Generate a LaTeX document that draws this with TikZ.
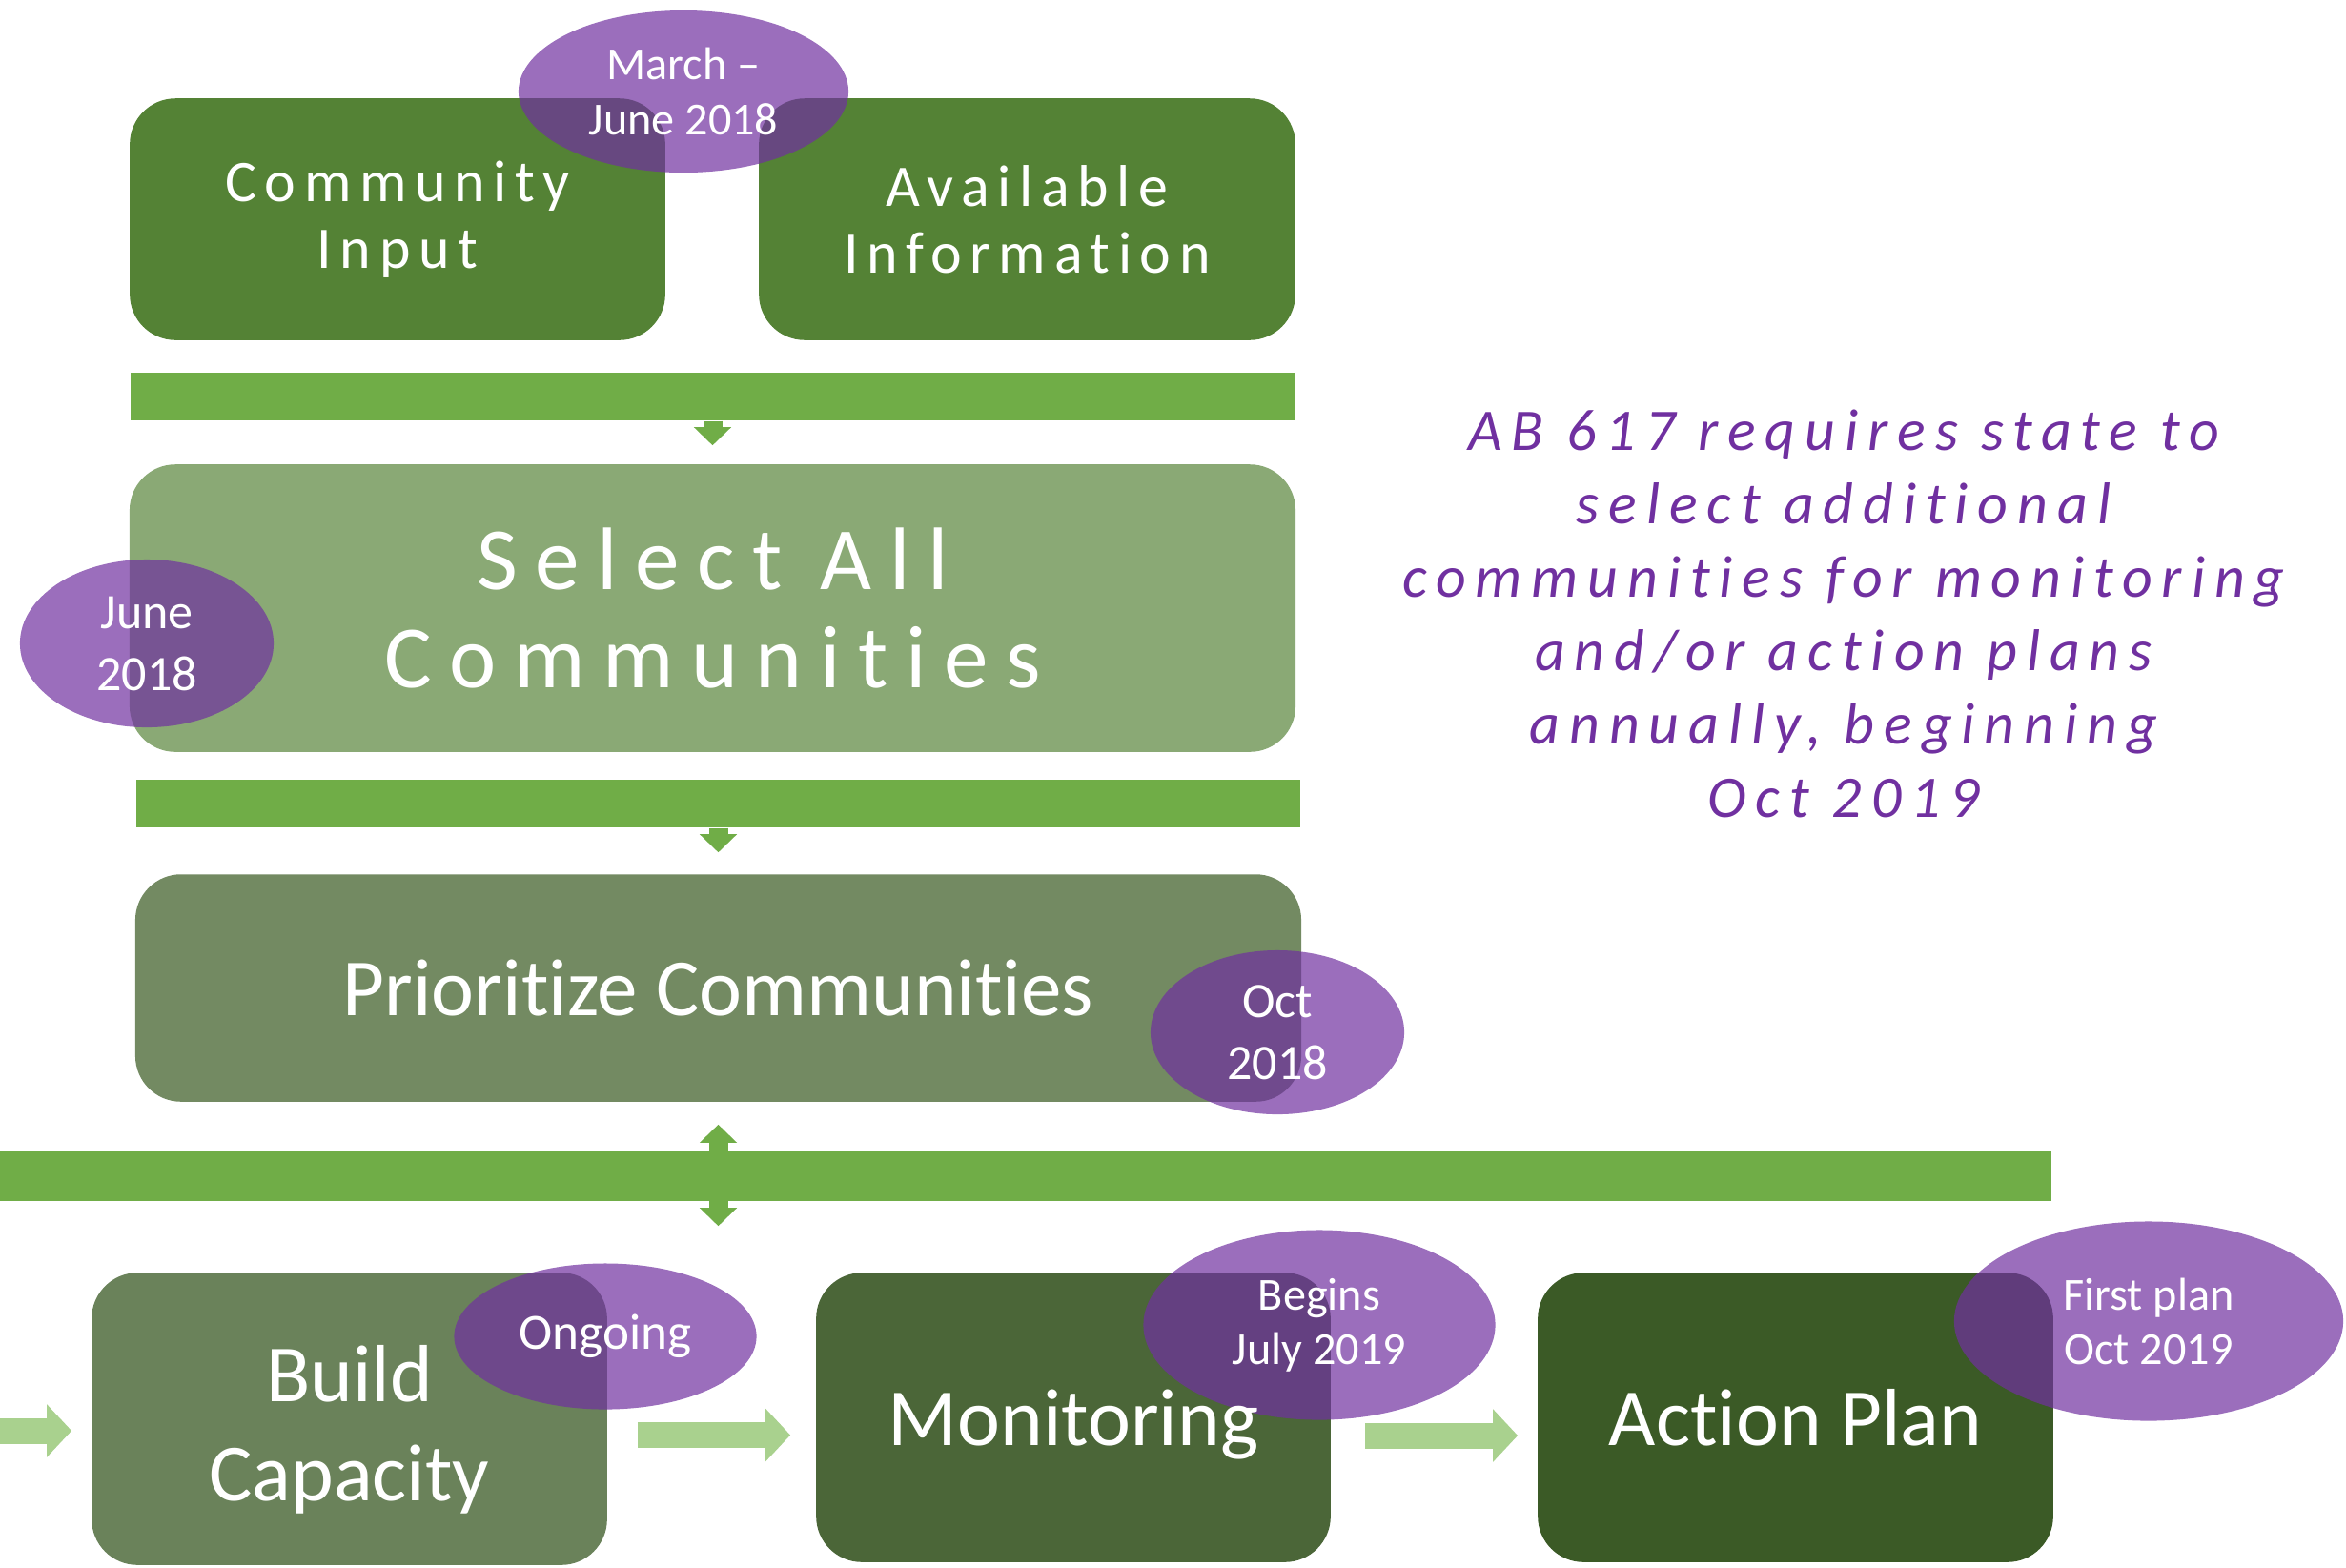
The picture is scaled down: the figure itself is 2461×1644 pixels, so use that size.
\documentclass[tikz,border=0pt]{standalone}
\usepackage{fontspec}
\setmainfont{Carlito}[Ligatures=NoCommon]
\newfontfamily\spacedfont[LetterSpace=14,Ligatures=NoCommon]{Carlito}
\newfontfamily\widefont[LetterSpace=20,Ligatures=NoCommon]{Carlito}
\newfontfamily\notefont[LetterSpace=16,Ligatures=NoCommon]{Carlito}
\usetikzlibrary{arrows.meta,shapes.geometric}

\definecolor{bargreen}{HTML}{70AD47}
\definecolor{topgreen}{HTML}{548235}
\definecolor{selgreen}{HTML}{8AA975}
\definecolor{prigreen}{HTML}{738A62}
\definecolor{bldgreen}{HTML}{6A825A}
\definecolor{mongreen}{HTML}{4B6638}
\definecolor{actgreen}{HTML}{3B5A26}
\definecolor{lightgreen}{HTML}{A9D18E}
\definecolor{datepurple}{HTML}{7030A0}

\pgfdeclarelayer{fills}
\pgfdeclarelayer{dates}
\pgfsetlayers{fills,dates,main}

\begin{document}
\begin{tikzpicture}[x=0.01cm, y=-0.01cm,
	box/.style={text=white, align=center, inner sep=0pt},
	oneline/.style={text height=16.5pt, text depth=0pt},
	bar/.style={fill=bargreen, inner sep=0pt},
	date/.style={ellipse, fill=datepurple, fill opacity=0.7, text opacity=1, text=white, align=center, inner sep=-2pt},
	vtip/.style={-{Triangle[width=0.38cm,length=0.19cm]}},
	vboth/.style={{Triangle[width=0.38cm,length=0.19cm]}-{Triangle[width=0.38cm,length=0.19cm]}},
	varrow/.style={bargreen, line width=0.2cm},
	harrow/.style={lightgreen, line width=0.27cm, -{Triangle[width=0.54cm,length=0.26cm]}}]
	%\draw[help lines] (0,0) grid[step=100] (2461,1644);
	\useasboundingbox (0,0) rectangle (2461,1644);

	% boxes
	\node[box, minimum width=5.6cm, minimum height=2.52cm, font=\spacedfont\fontsize{17.6}{19.9}\selectfont] (ci) at (417,230) {Community\\Input};
	\node[box, minimum width=5.61cm, minimum height=2.52cm, font=\spacedfont\fontsize{17.6}{19.9}\selectfont] (ai) at (1077.5,230) {Available\\Information};
	\node[box, minimum width=12.21cm, minimum height=3cm, font=\widefont\fontsize{26.5}{29.3}\selectfont] (sel) at (747.5,638) {Select All\\Communities};
	\node[box, oneline, minimum width=12.21cm, minimum height=2.37cm, font=\fontsize{24.2}{29.6}\selectfont] (pri) at (753.5,1036.5) {Prioritize Communities};
	\node[box, minimum width=5.39cm, minimum height=3.05cm,
		label={[box, yshift=-0.11cm, font=\fontsize{24.2}{29.6}\selectfont]center:Build\\Capacity}] (bld) at (366.5,1488.5) {};
	\node[box, oneline, minimum width=5.38cm, minimum height=3.02cm, font=\fontsize{24.2}{29.6}\selectfont] (mon) at (1126,1487) {Monitoring};
	\node[box, oneline, minimum width=5.39cm, minimum height=3.02cm, font=\fontsize{24.2}{29.6}\selectfont] (act) at (1883.5,1487) {Action Plan};

	\begin{pgfonlayer}{fills}
	\foreach \b/\col in {ci/topgreen, ai/topgreen, sel/selgreen, pri/prigreen, bld/bldgreen, mon/mongreen, act/actgreen}
		\fill[\col, rounded corners=0.48cm] (\b.north west) rectangle (\b.south east);
	\end{pgfonlayer}

	% arrows between the bars and boxes
	\draw[varrow, vboth, shorten <=0.24cm, shorten >=0.49cm] (pri.south) -- (pri.south |- bld.north);
	\node[bar, minimum width=12.21cm, minimum height=0.5cm] (bar1) at (747.5,416) {};
	\node[bar, minimum width=12.21cm, minimum height=0.5cm] (bar2) at (753.5,843) {};
	\node[bar, minimum width=21.51cm, minimum height=0.53cm] (bar3) at (1075.5,1233.5) {};
	\draw[varrow, vtip, shorten >=0.2cm] (bar1.south) -- (sel.north);
	\draw[varrow, vtip, shorten >=0.23cm] (bar2.south) -- (pri.north);

	\coordinate (inl) at (0,1501);
	\draw[harrow, shorten >=0.21cm] (inl) -- (inl -| bld.west);
	\draw[harrow, shorten <=0.32cm, shorten >=0.27cm] ([yshift=-0.17cm]bld.east) -- ([yshift=-0.17cm]bld.east -| mon.west);
	\draw[harrow, shorten <=0.36cm, shorten >=0.21cm] ([yshift=-0.19cm]mon.east) -- ([yshift=-0.19cm]mon.east -| act.west);

	% dates
	\begin{pgfonlayer}{dates}
	\node[date, minimum width=3.46cm, minimum height=1.7cm, font=\fontsize{13.7}{16.5}\selectfont] (d1) at (717,96) {March --\\June 2018};
	\node[date, minimum width=2.66cm, minimum height=1.76cm, font=\fontsize{14.8}{18.5}\selectfont] (d2) at (154,675) {June\\2018};
	\node[date, minimum width=2.66cm, minimum height=1.72cm, font=\fontsize{14.8}{18.5}\selectfont] (d3) at (1340,1083) {Oct\\2018};
	\node[date, minimum width=3.17cm, minimum height=1.53cm, font=\fontsize{15.1}{18}\selectfont] (d4) at (635,1402) {Ongoing};
	\node[date, minimum width=3.69cm, minimum height=1.99cm, font=\fontsize{13.7}{16.2}\selectfont] (d5) at (1384,1390) {Begins\\July 2019};
	\node[date, minimum width=4.08cm, minimum height=2.09cm, font=\fontsize{13.7}{16.2}\selectfont] (d6) at (2254,1386) {First plan\\Oct 2019};
	\end{pgfonlayer}

	\node[text=datepurple, align=center, font=\notefont\itshape\fontsize{17.6}{21.9}\selectfont] (note) at (1934,644) {AB 617 requires state to\\select additional\\communities for monitoring\\and/or action plans\\annually, beginning\\Oct 2019};
\end{tikzpicture}
\end{document}
